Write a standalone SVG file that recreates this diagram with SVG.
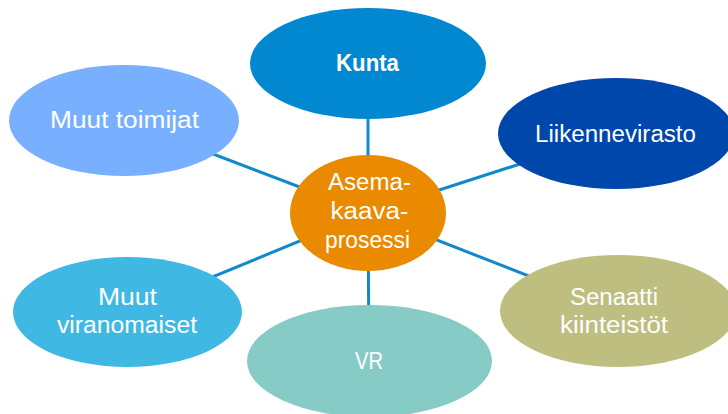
<svg xmlns="http://www.w3.org/2000/svg" width="728" height="414" viewBox="0 0 728 414">
<style>
.lbl{font-family:"Liberation Sans",Arial,sans-serif;font-size:23px;fill:#ffffff;text-anchor:middle}
.b{font-weight:bold}
.con line{stroke:#1188cc;stroke-width:3}
</style>
<rect width="728" height="414" fill="#ffffff"/>
<g id="connectors" class="con">
<line x1="368" y1="213" x2="368" y2="63"/>
<line x1="368" y1="213" x2="616" y2="133"/>
<line x1="368" y1="213" x2="618" y2="311"/>
<line x1="368" y1="213" x2="369" y2="361"/>
<line x1="368" y1="213" x2="127" y2="312"/>
<line x1="368" y1="213" x2="124" y2="120"/>
</g>
<g id="kunta">
<ellipse cx="368" cy="63.5" rx="118" ry="55.5" fill="#0288d1"/>
<text class="lbl b" x="367.5" y="71" textLength="63" lengthAdjust="spacingAndGlyphs">Kunta</text>
</g>
<g id="liikennevirasto">
<ellipse cx="616" cy="133.5" rx="118" ry="55.5" fill="#0047ab"/>
<text class="lbl" x="615.5" y="142" textLength="161" lengthAdjust="spacingAndGlyphs">Liikennevirasto</text>
</g>
<g id="senaatti">
<ellipse cx="618" cy="311" rx="118" ry="56" fill="#bebe80"/>
<text class="lbl" x="614" y="305" textLength="88" lengthAdjust="spacingAndGlyphs">Senaatti</text>
<text class="lbl" x="614" y="333" textLength="108" lengthAdjust="spacingAndGlyphs">kiinteistöt</text>
</g>
<g id="vr">
<ellipse cx="369.5" cy="361" rx="122.5" ry="56" fill="#86cbc6"/>
<text class="lbl" x="369" y="369" textLength="28" lengthAdjust="spacingAndGlyphs">VR</text>
</g>
<g id="muut-viranomaiset">
<ellipse cx="127.5" cy="312" rx="114.5" ry="55" fill="#3fb8e3"/>
<text class="lbl" x="127.5" y="305" textLength="59" lengthAdjust="spacingAndGlyphs">Muut</text>
<text class="lbl" x="127" y="333" textLength="140" lengthAdjust="spacingAndGlyphs">viranomaiset</text>
</g>
<g id="muut-toimijat">
<ellipse cx="124" cy="120.5" rx="115" ry="55.5" fill="#78b0ff"/>
<text class="lbl" x="124.5" y="128" textLength="149" lengthAdjust="spacingAndGlyphs">Muut toimijat</text>
</g>
<g id="asemakaavaprosessi">
<ellipse cx="368" cy="213" rx="78" ry="58" fill="#e98a00"/>
<text class="lbl" x="369.5" y="190" textLength="83" lengthAdjust="spacingAndGlyphs">Asema-</text>
<text class="lbl" x="369.5" y="219" textLength="78" lengthAdjust="spacingAndGlyphs">kaava-</text>
<text class="lbl" x="367.5" y="248" textLength="85" lengthAdjust="spacingAndGlyphs">prosessi</text>
</g>
</svg>
